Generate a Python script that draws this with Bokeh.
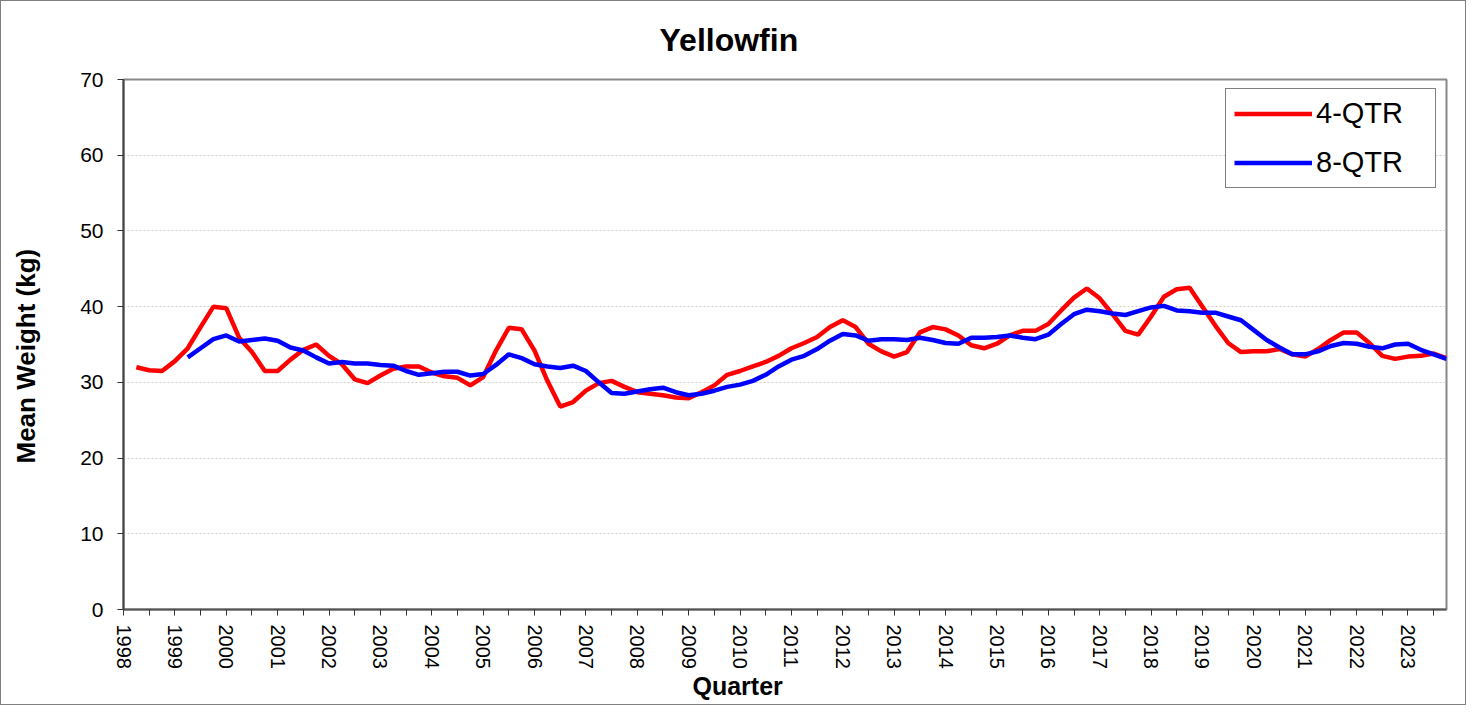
import numpy as np
from bokeh.plotting import figure
from bokeh.models import Range1d, FixedTicker, Title, Legend, LegendItem
from bokeh.embed import file_html
from bokeh.resources import INLINE
import math

FONT = "Liberation Sans"

# ---- data ----
start_4qtr = 1998.25
qtr4 = [32.0, 31.6, 31.5,
        32.8, 34.5, 37.3, 40.0,
        39.8, 35.9, 34.0, 31.5,
        31.5, 33.0, 34.3, 35.0,
        33.5, 32.4, 30.4, 29.9,
        30.9, 31.8, 32.1, 32.1,
        31.3, 30.8, 30.6, 29.6,
        30.7, 34.2, 37.2, 37.0,
        34.2, 30.2, 26.8, 27.4,
        28.9, 29.9, 30.2, 29.4,
        28.7, 28.5, 28.3, 28.0,
        27.9, 28.7, 29.6, 31.0,
        31.5, 32.1, 32.7, 33.5,
        34.5, 35.2, 36.0, 37.3,
        38.2, 37.3, 35.1, 34.1,
        33.4, 34.0, 36.6, 37.3,
        37.0, 36.2, 34.9, 34.5,
        35.1, 36.2, 36.8, 36.8,
        37.7, 39.5, 41.2, 42.4,
        41.1, 39.0, 36.8, 36.3,
        38.7, 41.3, 42.3, 42.5,
        40.0, 37.5, 35.2, 34.0,
        34.1, 34.1, 34.4, 33.7,
        33.4, 34.4, 35.6, 36.6,
        36.6, 35.2, 33.5, 33.1,
        33.4, 33.5, 33.8, 33.2]

start_8qtr = 1999.25
qtr8 = [33.3, 34.5, 35.7,
        36.2, 35.4, 35.6, 35.8,
        35.5, 34.6, 34.2, 33.3,
        32.5, 32.7, 32.5, 32.5,
        32.3, 32.2, 31.5, 31.0,
        31.2, 31.4, 31.4, 30.9,
        31.1, 32.3, 33.7, 33.2,
        32.4, 32.1, 31.9, 32.2,
        31.5, 30.0, 28.6, 28.5,
        28.8, 29.1, 29.3, 28.7,
        28.3, 28.5, 28.9, 29.4,
        29.7, 30.2, 31.0, 32.1,
        33.0, 33.5, 34.4, 35.5,
        36.4, 36.2, 35.5, 35.7,
        35.7, 35.6, 35.9, 35.6,
        35.2, 35.1, 35.9, 35.9,
        36.0, 36.2, 35.9, 35.7,
        36.3, 37.7, 39.0, 39.6,
        39.4, 39.1, 38.9, 39.4,
        39.9, 40.1, 39.5, 39.4,
        39.2, 39.2, 38.7, 38.2,
        36.9, 35.6, 34.6, 33.7,
        33.7, 34.1, 34.8, 35.2,
        35.1, 34.7, 34.5, 35.0,
        35.1, 34.3, 33.7, 33.1]

years = list(range(1998, 2024))
half_years = [y + 0.5 for y in years]
y_ticks = [0, 10, 20, 30, 40, 50, 60, 70]
series_names = ["4-QTR", "8-QTR"]
series_colors = ["#ff0000", "#0000ff"]

x4 = start_4qtr + 0.25 * np.arange(len(qtr4))
x8 = start_8qtr + 0.25 * np.arange(len(qtr8))

p = figure(width=1466, height=705, output_backend="svg", toolbar_location=None,
           x_range=Range1d(1998, 2023.75), y_range=Range1d(0, 70),
           min_border_left=122, min_border_right=21, min_border_top=77, min_border_bottom=97,
           background_fill_color="white", border_fill_color="white")

p.outline_line_color = "#888888"
p.outline_line_width = 2

# axes
p.xaxis.ticker = FixedTicker(ticks=years, minor_ticks=half_years)
p.xaxis.major_label_orientation = -math.pi / 2
p.xaxis.major_label_text_font = FONT
p.xaxis.major_label_text_font_size = "20px"
p.xaxis.major_label_text_color = "black"
p.xaxis.major_tick_out = 6
p.xaxis.major_tick_in = 0
p.xaxis.minor_tick_out = 6
p.xaxis.minor_tick_in = 0
p.xaxis.major_label_standoff = 9
p.xaxis.axis_line_color = "#555555"
p.xaxis.axis_line_width = 2
p.xaxis.major_tick_line_color = "#333333"
p.xaxis.minor_tick_line_color = "#333333"

p.yaxis.ticker = FixedTicker(ticks=y_ticks)
p.yaxis.major_label_text_font = FONT
p.yaxis.major_label_text_font_size = "21px"
p.yaxis.major_label_text_color = "black"
p.yaxis.major_tick_out = 6
p.yaxis.major_tick_in = 0
p.yaxis.minor_tick_out = 0
p.yaxis.minor_tick_in = 0
p.yaxis.major_label_standoff = 14
p.yaxis.axis_line_color = "#444444"
p.yaxis.axis_line_width = 2
p.yaxis.major_tick_line_color = "#333333"

p.xgrid.grid_line_color = None
p.ygrid.ticker = FixedTicker(ticks=y_ticks)
p.ygrid.grid_line_color = "#cccccc"
p.ygrid.grid_line_dash = "2 2"
p.ygrid.grid_line_width = 1

# titles
p.add_layout(Title(text="Yellowfin", align="left", offset=536, text_font=FONT,
                   text_font_size="32px", text_font_style="bold", text_color="black",
                   vertical_align="top", standoff=40), "above")
p.add_layout(Title(text="Quarter", align="left", offset=569, text_font=FONT,
                   text_font_size="25px", text_font_style="bold", text_color="black",
                   vertical_align="top", standoff=0), "below")
p.add_layout(Title(text="Mean Weight (kg)\n", align="left", offset=146, text_font=FONT,
                   text_font_size="26px", text_font_style="bold", text_color="black",
                   text_line_height=1.22, vertical_align="bottom", standoff=0), "left")

# lines
r4 = p.line(x4, qtr4, line_color=series_colors[0], line_width=4.5)
r8 = p.line(x8, qtr8, line_color=series_colors[1], line_width=4.5)

legend = Legend(items=[LegendItem(label=series_names[0], renderers=[r4]),
                       LegendItem(label=series_names[1], renderers=[r8])],
                location=(1102, 421), orientation="vertical",
                label_text_font=FONT, label_text_font_size="29px", label_text_color="black",
                glyph_width=78, glyph_height=31, label_height=31, label_width=111,
                label_standoff=4, padding=8, spacing=16, margin=0,
                border_line_color="black", border_line_width=1,
                background_fill_color="white", background_fill_alpha=1)
p.add_layout(legend, "center")

p.styles = {"border": "1px solid #808080"}

open("out.html", "w").write(file_html(p, INLINE))
